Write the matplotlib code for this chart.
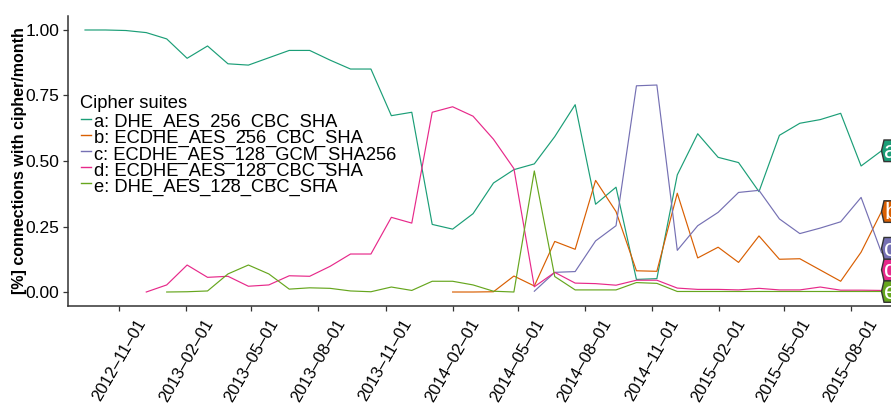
import matplotlib
matplotlib.use('Agg')
import matplotlib.pyplot as plt
import pandas as pd
from matplotlib.patches import Polygon
from matplotlib.lines import Line2D
from matplotlib.transforms import IdentityTransform

plt.rcParams['font.family'] = ['Liberation Sans', 'DejaVu Sans']

# 40 samples, 4 weeks apart
dates = pd.date_range('2012-09-15', periods=40, freq='28D')

a_vals = [1.000, 1.000, 0.998, 0.990, 0.966, 0.892, 0.939, 0.871, 0.866, 0.894,
          0.922, 0.922, 0.885, 0.851, 0.851, 0.673, 0.686, 0.258, 0.240, 0.299,
          0.416, 0.467, 0.489, 0.593, 0.715, 0.335, 0.400, 0.048, 0.051, 0.447,
          0.604, 0.514, 0.494, 0.383, 0.598, 0.644, 0.658, 0.682, 0.481, 0.539]
b_vals = [0.000, 0.000, 0.001, 0.061, 0.023, 0.193, 0.163, 0.426, 0.307, 0.081,
          0.079, 0.377, 0.130, 0.171, 0.113, 0.214, 0.125, 0.127, 0.084, 0.041,
          0.152, 0.307]
c_vals = [0.003, 0.075, 0.078, 0.195, 0.253, 0.787, 0.790, 0.159, 0.253, 0.304,
          0.380, 0.388, 0.279, 0.223, 0.244, 0.268, 0.361, 0.150]
d_vals = [0.000, 0.027, 0.103, 0.056, 0.060, 0.022, 0.027, 0.062, 0.060, 0.098,
          0.145, 0.145, 0.285, 0.263, 0.686, 0.707, 0.671, 0.583, 0.471, 0.020,
          0.075, 0.034, 0.032, 0.026, 0.045, 0.045, 0.015, 0.010, 0.010, 0.008,
          0.014, 0.008, 0.008, 0.019, 0.007, 0.007, 0.006]
e_vals = [0.000, 0.001, 0.004, 0.069, 0.103, 0.069, 0.011, 0.016, 0.014, 0.004,
          0.001, 0.019, 0.006, 0.041, 0.041, 0.027, 0.003, 0.000, 0.462, 0.059,
          0.008, 0.008, 0.008, 0.036, 0.033, 0.002, 0.002, 0.002, 0.002, 0.002,
          0.002, 0.002, 0.002, 0.002, 0.002, 0.002]

keys = ['a', 'b', 'c', 'd', 'e']
names = ['a: DHE_AES_256_CBC_SHA', 'b: ECDHE_AES_256_CBC_SHA',
         'c: ECDHE_AES_128_GCM_SHA256', 'd: ECDHE_AES_128_CBC_SHA',
         'e: DHE_AES_128_CBC_SHA']
series = [a_vals, b_vals, c_vals, d_vals, e_vals]
colors = ['#1B9E77', '#D95F02', '#7570B3', '#E7298A', '#66A61E']

tick_dates = pd.date_range('2012-11-01', '2015-08-01', freq='3MS')
y_ticks = [0, 0.25, 0.5, 0.75, 1.0]

W, H = 891, 407
fig = plt.figure(figsize=(W / 100, H / 100), dpi=100)
ax = fig.add_axes([67.5 / W, 101 / H, (W - 67.5) / W, 290 / H])

for vals, col in zip(series, colors):
    ax.plot(dates[-len(vals):], vals, color=col, lw=0.85)

ax.set_xlim(pd.Timestamp('2012-11-01') - pd.Timedelta(days=71),
            pd.Timestamp('2012-11-01') + pd.Timedelta(days=1058))
ax.set_ylim(-0.0534, 1.0534)

ax.set_xticks(tick_dates)
ax.set_xticklabels([d.strftime('%Y\u2013%m\u2013%d') for d in tick_dates],
                   rotation=60, ha='center', va='top', fontsize=12)
ax.set_yticks(y_ticks)
ax.set_yticklabels(['%.2f' % v for v in y_ticks], fontsize=12.5)
ax.tick_params(length=3.5, width=0.9, color='#333333', pad=2.5)
ax.tick_params(axis='x', pad=4)
for s in ['top', 'right']:
    ax.spines[s].set_visible(False)
for s in ['left', 'bottom']:
    ax.spines[s].set_color('#333333')
    ax.spines[s].set_linewidth(1.1)
ax.set_ylabel('[%] connections with cipher/month', fontsize=11.5,
              fontweight='bold', labelpad=-1)

# legend drawn by hand (ggplot-style, tight rows)
def fx(x):
    return x / W

def fy(y):
    return 1 - y / H

fig.text(fx(80), fy(108.5), 'Cipher suites', fontsize=13.2, va='baseline')
for i, (nm, col) in enumerate(zip(names, colors)):
    yl = 119 + 16.1 * i
    fig.add_artist(Line2D([fx(80.5), fx(91)], [fy(yl), fy(yl)], color=col, lw=1.0))
    fig.text(fx(93.5), fy(yl + 8.2), nm, fontsize=13.2, va='baseline')

# direct labels at the last point, spread apart so they do not overlap
fig.canvas.draw()
half = 10.8
pts = []
for k, vals, col in zip(keys, series, colors):
    px, py = ax.transData.transform((matplotlib.dates.date2num(dates[-1]), vals[-1]))
    pts.append([py, px, k, col])
pts.sort()
for i in range(1, len(pts)):
    if pts[i][0] < pts[i - 1][0] + 2 * half:
        pts[i][0] = pts[i - 1][0] + 2 * half
for py, px, k, col in pts:
    poly = Polygon([(px, py), (px + 2.5, py + half), (px + 40, py + half),
                    (px + 40, py - half), (px + 2.5, py - half)], closed=True,
                   facecolor=col, edgecolor='#333333', lw=1.0,
                   transform=IdentityTransform(), clip_on=False, zorder=5)
    ax.add_patch(poly)
    ax.text(px + 2.5, py - 1.5, k, color='white', fontsize=17.5, va='center',
            ha='left', transform=IdentityTransform(), clip_on=False, zorder=6)

fig.savefig('out.png', dpi=100)
